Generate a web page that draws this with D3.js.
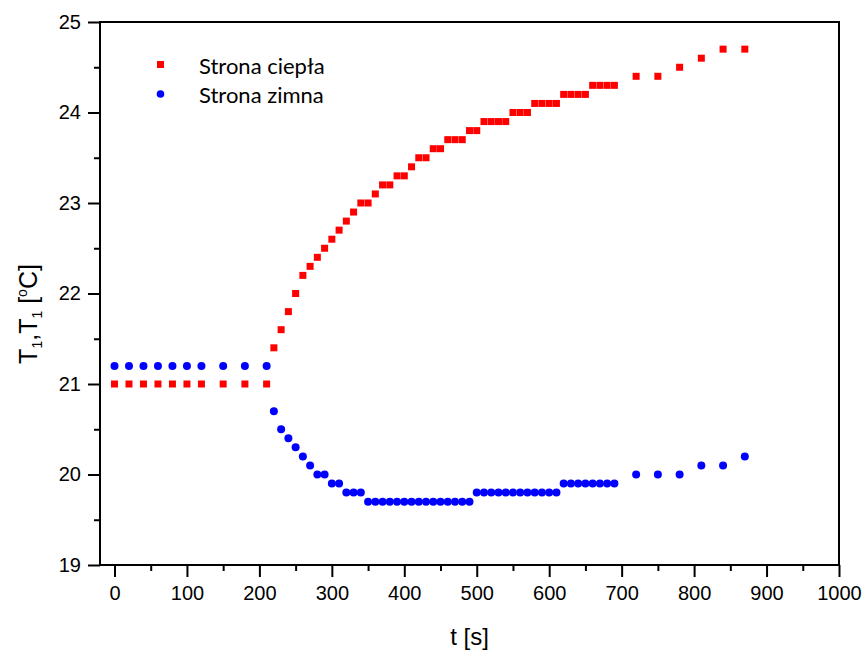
<!DOCTYPE html>
<html><head><meta charset="utf-8">
<script src="https://cdn.jsdelivr.net/npm/d3@7"></script>
<style>body{margin:0;background:#fff;} svg{display:block;}</style>
</head><body>
<svg id="chart" width="866" height="651"></svg>
<script>
// Data
const times = [0,20,40,60,80,100,120,150,180,210,
  220,230,240,250,260,270,280,290,300,310,320,330,340,350,360,370,380,390,400,
  410,420,430,440,450,460,470,480,490,500,510,520,530,540,550,560,570,580,590,600,
  610,620,630,640,650,660,670,680,690,720,750,780,810,840,870];
const warm = [21.0,21.0,21.0,21.0,21.0,21.0,21.0,21.0,21.0,21.0,
  21.4,21.6,21.8,22.0,22.2,22.3,22.4,22.5,22.6,22.7,22.8,22.9,23.0,23.0,23.1,23.2,23.2,23.3,23.3,
  23.4,23.5,23.5,23.6,23.6,23.7,23.7,23.7,23.8,23.8,23.9,23.9,23.9,23.9,24.0,24.0,24.0,24.1,24.1,24.1,
  24.1,24.2,24.2,24.2,24.2,24.3,24.3,24.3,24.3,24.4,24.4,24.5,24.6,24.7,24.7];
const cold = [21.2,21.2,21.2,21.2,21.2,21.2,21.2,21.2,21.2,21.2,
  20.7,20.5,20.4,20.3,20.2,20.1,20.0,20.0,19.9,19.9,19.8,19.8,19.8,19.7,19.7,19.7,19.7,19.7,19.7,
  19.7,19.7,19.7,19.7,19.7,19.7,19.7,19.7,19.7,19.8,19.8,19.8,19.8,19.8,19.8,19.8,19.8,19.8,19.8,19.8,
  19.8,19.9,19.9,19.9,19.9,19.9,19.9,19.9,19.9,20.0,20.0,20.0,20.1,20.1,20.2];
const xTicks = [0,100,200,300,400,500,600,700,800,900,1000];
const xMinor = [50,150,250,350,450,550,650,750,850,950];
const yTicks = [19,20,21,22,23,24,25];
const yMinor = [19.5,20.5,21.5,22.5,23.5,24.5];
const seriesNames = ["Strona ciepła","Strona zimna"];
const seriesColors = ["#ff0000","#0000ff"];

const svg = d3.select("#chart");
const L = 100, R = 839, T = 22, B = 565;
const x = d3.scaleLinear().domain([-20,1000]).range([L,R]);
const y = d3.scaleLinear().domain([19,25]).range([B,T]);

const font = "'Liberation Sans', Arial, sans-serif";

// minor ticks
svg.append("g").attr("transform",`translate(0,${B})`)
  .call(d3.axisBottom(x).tickValues(xMinor).tickSize(6).tickFormat(""))
  .call(g=>g.select(".domain").remove())
  .selectAll("line").attr("stroke","#000").attr("stroke-width",2);
svg.append("g").attr("transform",`translate(${L},0)`)
  .call(d3.axisLeft(y).tickValues(yMinor).tickSize(6).tickFormat(""))
  .call(g=>g.select(".domain").remove())
  .selectAll("line").attr("stroke","#000").attr("stroke-width",2);

// major
const gx = svg.append("g").attr("transform",`translate(0,${B})`)
  .call(d3.axisBottom(x).tickValues(xTicks).tickSize(12).tickPadding(9).tickFormat(d3.format("d")));
gx.select(".domain").remove();
gx.selectAll("line").attr("stroke","#000").attr("stroke-width",2);
gx.selectAll("text").attr("font-family",font).attr("font-size",20).attr("fill","#000");

const gy = svg.append("g").attr("transform",`translate(${L},0)`)
  .call(d3.axisLeft(y).tickValues(yTicks).tickSize(12).tickPadding(7).tickFormat(d3.format("d")));
gy.select(".domain").remove();
gy.selectAll("line").attr("stroke","#000").attr("stroke-width",2);
gy.selectAll("text").attr("font-family",font).attr("font-size",20).attr("fill","#000");

// frame
svg.append("rect").attr("x",L).attr("y",T).attr("width",R-L).attr("height",B-T)
  .attr("fill","none").attr("stroke","#000").attr("stroke-width",2);

// data
const sq = 7;
svg.append("g").selectAll("rect").data(times.map((t,i)=>[t,warm[i]])).join("rect")
  .attr("x",d=>x(d[0])-sq/2).attr("y",d=>y(d[1])-sq/2).attr("width",sq).attr("height",sq)
  .attr("fill",seriesColors[0]);
svg.append("g").selectAll("circle").data(times.map((t,i)=>[t,cold[i]])).join("circle")
  .attr("cx",d=>x(d[0])).attr("cy",d=>y(d[1])).attr("r",4)
  .attr("fill",seriesColors[1]);

// legend
const lg = svg.append("g");
lg.append("rect").attr("x",157).attr("y",61).attr("width",7).attr("height",7).attr("fill",seriesColors[0]);
lg.append("circle").attr("cx",160.5).attr("cy",94).attr("r",3.8).attr("fill",seriesColors[1]);
const lfont = "Lato, 'Open Sans', sans-serif";
lg.append("text").attr("x",199).attr("y",74).attr("font-family",lfont).attr("font-size",22).text(seriesNames[0]);
lg.append("text").attr("x",199).attr("y",103).attr("font-family",lfont).attr("font-size",22).text(seriesNames[1]);

// axis titles
svg.append("text").attr("x",(L+R)/2).attr("y",645).attr("text-anchor","middle")
  .attr("font-family",font).attr("font-size",24).text("t [s]");
const yl = svg.append("text").attr("transform","translate(37,314) rotate(-90)")
  .attr("text-anchor","middle").attr("font-family",font).attr("font-size",25);
yl.append("tspan").text("T");
yl.append("tspan").attr("font-size",14).attr("dy",5).text("1");
yl.append("tspan").attr("dy",-5).text(",T");
yl.append("tspan").attr("font-size",14).attr("dy",5).text("1");
yl.append("tspan").attr("dy",-5).text(" [");
yl.append("tspan").attr("font-size",14).attr("dy",-10).text("o");
yl.append("tspan").attr("dy",10).text("C]");
</script>
</body></html>
